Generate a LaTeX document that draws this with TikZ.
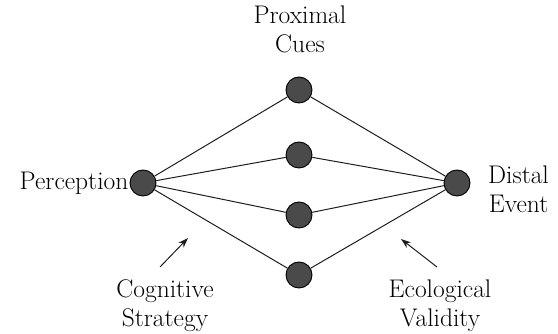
\documentclass[tikz,border=0pt]{standalone}
\usetikzlibrary{arrows.meta,positioning}
\definecolor{cuefill}{HTML}{4A4A4A}
\definecolor{wire}{HTML}{1E1E1E}

\begin{document}
\begin{tikzpicture}[x=1pt,y=-1pt,
  dot/.style={circle,draw=black,line width=0.9pt,fill=cuefill,minimum size=26pt,inner sep=0pt},
  lbl/.style={align=center,font=\rmfamily\fontsize{25.5}{29}\selectfont,inner sep=1pt},
  link/.style={draw=wire,line width=1pt},
  >={Stealth[length=10pt,width=7pt]}]
\useasboundingbox (0,0) rectangle (558,334);
\node[dot] (perc) at (143,183) {};
\node[dot] (cue1) at (299,90) {};
\node[dot] (cue2) at (299,155) {};
\node[dot] (cue3) at (299,215) {};
\node[dot] (cue4) at (299,275) {};
\node[dot] (distal) at (457,183) {};
\node[lbl,left=0pt of perc] (perclabel) {Perception};
\node[lbl] (cuelabel) at (300,29) {Proximal\\Cues};
\node[lbl,anchor=west] (distlabel) at (487,189) {Distal\\Event};
\node[lbl] (coglabel) at (165,306) {Cognitive\\Strategy};
\node[lbl] (ecolabel) at (440,306) {Ecological\\Validity};
\foreach \c in {cue1,cue2,cue3,cue4}{
  \draw[link] (perc)--(\c);
  \draw[link] (\c)--(distal);
}
\coordinate (cogtail) at (160,267);
\coordinate (cogtip) at (188,238);
\coordinate (ecotail) at (437,267);
\coordinate (ecotip) at (401,239);
\draw[->,link] (cogtail)--(cogtip);
\draw[->,link] (ecotail)--(ecotip);
\end{tikzpicture}
\end{document}
